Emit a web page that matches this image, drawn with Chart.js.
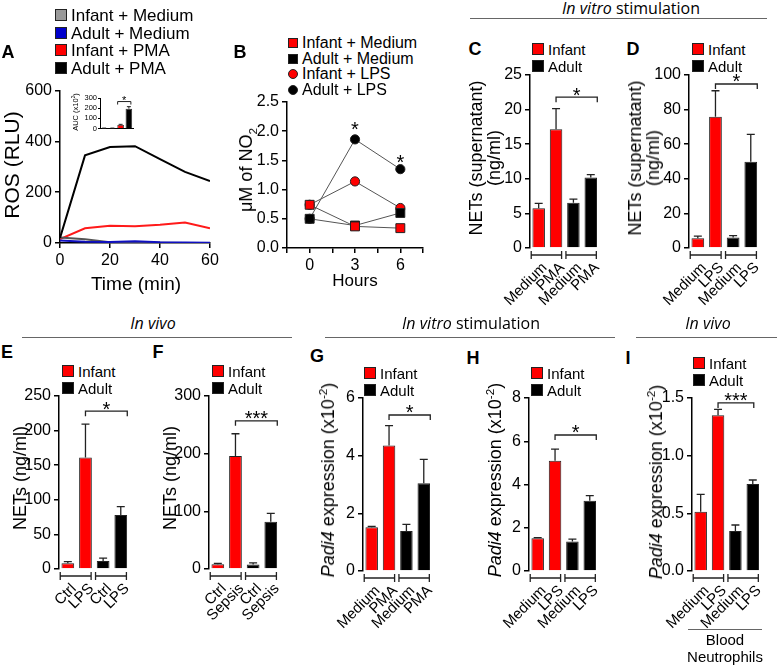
<!DOCTYPE html>
<html><head><meta charset="utf-8">
<script src="https://cdn.jsdelivr.net/npm/chart.js@4"></script>
<style>
body{margin:0;background:#fff;width:778px;height:665px;position:relative;overflow:hidden;font-family:"Liberation Sans",Arial,sans-serif;color:#000}
canvas{position:absolute}
.t{position:absolute;white-space:nowrap;line-height:1}
.c{transform:translate(-50%,-50%)}
.v{transform:translate(-50%,-50%) rotate(-90deg);text-align:center}
.l{transform:translateY(-50%)}
.lbl{font-weight:bold;font-size:18px}
.hdr{font-family:"Open Sans",sans-serif;font-size:16px}
.hl{position:absolute;height:0;border-top:1.4px solid #666}
.sw{position:absolute;box-sizing:border-box;border:1px solid #222}
sup,sub{font-size:65%;line-height:0}
</style></head><body>
<script>
// ---------- DATA ----------
const timeMin = [0, 10, 20, 30, 40, 50, 60];
const rosInfantMedium = [22, 15, 3, 3, 1, 0, 0];
const rosAdultMedium = [10, 5, 4, 7, 3, 2, 1];
const rosInfantPMA = [15, 58, 68, 66, 72, 81, 58];
const rosAdultPMA = [20, 345, 378, 381, 330, 280, 244];
const aucGroups = ['Infant + Medium', 'Adult + Medium', 'Infant + PMA', 'Adult + PMA'];
const aucValues = [3, 3, 35, 195];
const aucErrors = [1, 1, 6, 20];

const hours = [0, 3, 6];
const no2InfantMedium = [0.74, 0.37, 0.34];
const no2AdultMedium = [0.50, 0.385, 0.60];
const no2InfantLPS = [0.74, 1.14, 0.685];
const no2AdultLPS = [0.50, 1.86, 1.35];

const cLabels = ['Medium', 'PMA', 'Medium', 'PMA'];
const cValues = [5.75, 17.15, 6.55, 10.2];
const cErrors = [0.7, 3.0, 0.5, 0.4];
const dLabels = ['Medium', 'LPS', 'Medium', 'LPS'];
const dValues = [5.6, 75.9, 6.0, 49.9];
const dErrors = [1.3, 15, 1.1, 15.8];
const eLabels = ['Ctrl', 'LPS', 'Ctrl', 'LPS'];
const eValues = [8.2, 161, 11.6, 78];
const eErrors = [2.4, 48.5, 4, 12];
const fLabels = ['Ctrl', 'Sepsis', 'Ctrl', 'Sepsis'];
const fValues = [8.1, 196, 8, 82];
const fErrors = [1.5, 38.5, 2.5, 14.5];
const gLabels = ['Medium', 'PMA', 'Medium', 'PMA'];
const gValues = [1.515, 4.35, 1.39, 3.04];
const gErrors = [0.03, 0.69, 0.23, 0.83];
const hLabels = ['Medium', 'LPS', 'Medium', 'LPS'];
const hValues = [1.51, 5.1, 1.36, 3.25];
const hErrors = [0.03, 0.54, 0.11, 0.24];
const iLabels = ['Medium', 'LPS', 'Medium', 'LPS'];
const iValues = [0.514, 1.35, 0.347, 0.754];
const iErrors = [0.15, 0.052, 0.052, 0.035];

// ---------- HELPERS ----------
Chart.defaults.font.family = '"Liberation Sans", Arial, sans-serif';
Chart.defaults.color = '#000';

function txt(html, x, y, cls, style) {
  const d = document.createElement('div');
  d.className = 't ' + (cls || '');
  d.innerHTML = html;
  d.style.left = x + 'px'; d.style.top = y + 'px';
  if (style) Object.assign(d.style, style);
  document.body.appendChild(d);
  return d;
}
function hline(x0, x1, y) {
  const d = document.createElement('div');
  d.className = 'hl';
  d.style.left = x0 + 'px'; d.style.top = y + 'px'; d.style.width = (x1 - x0) + 'px';
  document.body.appendChild(d);
}
function swatch(x, y, w, color, round) {
  const d = document.createElement('div');
  d.className = 'sw';
  Object.assign(d.style, {left: (x - w / 2) + 'px', top: (y - w / 2) + 'px', width: w + 'px', height: w + 'px', background: color});
  if (round) d.style.borderRadius = '50%';
  document.body.appendChild(d);
}
function mkCanvas(l, t, r, b, ext) {
  const c = document.createElement('canvas');
  const x = l - ext[0], y = t - ext[1];
  const w = (r - l) + ext[0] + ext[2], h = (b - t) + ext[1] + ext[3];
  c.width = w; c.height = h;
  Object.assign(c.style, {left: x + 'px', top: y + 'px', width: w + 'px', height: h + 'px'});
  document.body.appendChild(c);
  return c;
}
function baseOpts(ext) {
  return {
    responsive: false, animation: false, devicePixelRatio: 1,
    layout: {padding: {left: 0, top: ext[1], right: ext[2], bottom: 0}},
    plugins: {legend: {display: false}, tooltip: {enabled: false}}
  };
}
function yAxis(ext, min, max, step, size, fmt) {
  return {
    min: min, max: max,
    afterFit: s => { s.width = ext[0]; },
    ticks: {stepSize: step, font: {size: size}, color: '#000', padding: 3, autoSkip: false,
      callback: fmt || (v => v)},
    grid: {drawOnChartArea: false, tickLength: 5, color: '#000', lineWidth: 1.5},
    border: {color: '#000', width: 1.5}
  };
}

const deco = {
  id: 'deco',
  afterDatasetsDraw(chart) {
    const o = chart.options.plugins.deco;
    if (!o) return;
    const ctx = chart.ctx, xs = chart.scales.x, ys = chart.scales.y;
    const meta = chart.getDatasetMeta(0);
    ctx.save();
    ctx.strokeStyle = '#222'; ctx.lineWidth = o.lw || 1.3; ctx.lineCap = 'butt';
    if (o.err) {
      o.err.forEach((e, i) => {
        const el = meta.data[i];
        const v = chart.data.datasets[0].data[i];
        const y0 = ys.getPixelForValue(v), y1 = ys.getPixelForValue(v + e);
        ctx.beginPath();
        ctx.moveTo(el.x, y0); ctx.lineTo(el.x, y1);
        ctx.moveTo(el.x - o.cap, y1); ctx.lineTo(el.x + o.cap, y1);
        ctx.stroke();
      });
    }
    if (o.groups) {
      const cw = xs.getPixelForTick(1) - xs.getPixelForTick(0);
      const yb = ys.getPixelForValue(0) + 7;
      [[0, 1], [2, 3]].forEach(([a, b]) => {
        const x0 = xs.getPixelForTick(a) - 0.43 * cw, x1 = xs.getPixelForTick(b) + 0.32 * cw;
        ctx.beginPath();
        ctx.moveTo(x0, yb); ctx.lineTo(x1, yb);
        ctx.moveTo(x0, yb - 4); ctx.lineTo(x0, yb + 4);
        ctx.moveTo(x1, yb - 4); ctx.lineTo(x1, yb + 4);
        ctx.stroke();
      });
    }
    if (o.sig) {
      const s = o.sig;
      const x0 = meta.data[s.from].x + (s.dx0 || 0);
      const x1 = meta.data[s.to].x + (s.dx1 || 0);
      const y = ys.getPixelForValue(s.level);
      ctx.beginPath();
      ctx.moveTo(x0, y + s.tick); ctx.lineTo(x0, y); ctx.lineTo(x1, y); ctx.lineTo(x1, y + s.tick);
      ctx.stroke();
      ctx.fillStyle = '#000'; ctx.textAlign = 'center'; ctx.textBaseline = 'alphabetic';
      ctx.font = s.fs + 'px "Liberation Sans", Arial';
      ctx.fillText(s.text, (x0 + x1) / 2, y - s.gap + 0.57 * s.fs);
    }
    if (o.stars) {
      ctx.fillStyle = '#000'; ctx.textAlign = 'center'; ctx.textBaseline = 'alphabetic';
      ctx.font = o.starFs + 'px "Liberation Sans", Arial';
      o.stars.forEach(p => {
        ctx.fillText('*', xs.getPixelForValue(p.x), ys.getPixelForValue(p.y) + 0.57 * o.starFs);
      });
    }
    ctx.restore();
  }
};

function barPanel(l, t, r, b, labels, values, errors, max, step, fmt, sig) {
  const ext = [50, 14, 12, 72];
  const c = mkCanvas(l, t, r, b, ext);
  const opts = baseOpts(ext);
  opts.plugins.deco = {err: errors, cap: 4, groups: true, sig: sig};
  opts.scales = {
    x: {
      afterFit: s => { s.height = ext[3]; },
      grid: {display: false, drawTicks: false}, border: {display: false},
      ticks: {autoSkip: false, maxRotation: 45, minRotation: 45, font: {size: 15}, color: '#000',
        padding: 11, labelOffset: 6}
    },
    y: yAxis(ext, 0, max, step, 16, fmt)
  };
  new Chart(c, {
    type: 'bar',
    data: {labels: labels, datasets: [{data: values,
      backgroundColor: ['#ff0000', '#ff0000', '#000000', '#000000'],
      borderColor: '#222', borderWidth: 1, barPercentage: 0.72, categoryPercentage: 1}]},
    options: opts, plugins: [deco]
  });
}

// ---------- PANEL A ----------
(function () {
  const ext = [45, 12, 20, 50];
  const c = mkCanvas(60, 90, 210, 243, ext);
  const opts = baseOpts(ext);
  opts.scales = {
    x: {type: 'linear', min: 0, max: 60,
      afterFit: s => { s.height = ext[3]; },
      ticks: {stepSize: 20, font: {size: 16}, color: '#000', padding: 3},
      grid: {drawOnChartArea: false, tickLength: 5, color: '#000', lineWidth: 1.5},
      border: {color: '#000', width: 1.5}},
    y: yAxis(ext, 0, 600, 200, 16)
  };
  const mk = (arr, col, label) => ({label: label, data: timeMin.map((t, i) => ({x: t, y: arr[i]})),
    borderColor: col, borderWidth: 2, pointRadius: 0, tension: 0, fill: false});
  new Chart(c, {type: 'line', data: {datasets: [
    mk(rosAdultPMA, '#000000', 'Adult + PMA'),
    mk(rosAdultMedium, '#1010c0', 'Adult + Medium'),
    mk(rosInfantMedium, '#555555', 'Infant + Medium'),
    mk(rosInfantPMA, '#ff1a1a', 'Infant + PMA')
  ]}, options: opts});
})();

// inset
(function () {
  const ext = [18, 10, 6, 4];
  const c = mkCanvas(100, 98, 133, 130, ext);
  const opts = baseOpts(ext);
  opts.plugins.deco = {err: aucErrors, cap: 2, lw: 1, sig: {from: 2, to: 3, dx0: -3, dx1: 2, level: 265, tick: 3, text: '*', fs: 11, gap: 4}};
  opts.scales = {
    x: {afterFit: s => { s.height = ext[3]; }, ticks: {display: false},
      grid: {display: false, drawTicks: false}, border: {color: '#000', width: 1}},
    y: {min: 0, max: 300, afterFit: s => { s.width = ext[0]; },
      ticks: {stepSize: 100, font: {size: 7.5}, color: '#000', padding: 1, autoSkip: false},
      grid: {drawOnChartArea: false, tickLength: 2, color: '#000', lineWidth: 1},
      border: {color: '#000', width: 1}}
  };
  new Chart(c, {type: 'bar', data: {labels: aucGroups, datasets: [{data: aucValues,
    backgroundColor: ['#999999', '#0000cc', '#ff0000', '#000000'], borderColor: '#222', borderWidth: 0.8,
    barPercentage: 0.8, categoryPercentage: 1}]}, options: opts, plugins: [deco]});
})();

// ---------- PANEL B ----------
(function () {
  const ext = [40, 14, 10, 30];
  const c = mkCanvas(287, 102, 423, 248, ext);
  const opts = baseOpts(ext);
  opts.plugins.deco = {stars: [{x: 3, y: 2.11}, {x: 6, y: 1.54}], starFs: 20};
  opts.scales = {
    x: {type: 'linear', min: -1.5, max: 7.5,
      afterFit: s => { s.height = ext[3]; },
      ticks: {stepSize: 1.5, font: {size: 16}, color: '#000', padding: 3,
        callback: v => (hours.includes(v) ? v : '')},
      grid: {drawOnChartArea: false, tickLength: 5, color: '#000', lineWidth: 1.5},
      border: {color: '#000', width: 1.5}},
    y: yAxis(ext, 0, 2.5, 0.5, 16, v => v.toFixed(1))
  };
  const mk = (arr, col, style, r, label) => ({label: label, data: hours.map((h, i) => ({x: h, y: arr[i]})),
    showLine: true, borderColor: '#555', borderWidth: 1, backgroundColor: col,
    pointBackgroundColor: col, pointBorderColor: '#222', pointBorderWidth: 1,
    pointStyle: style, pointRadius: r, clip: false});
  new Chart(c, {type: 'line', data: {datasets: [
    mk(no2InfantMedium, '#ff0000', 'rect', 6.3, 'Infant + Medium'),
    mk(no2AdultMedium, '#000000', 'rect', 6.3, 'Adult + Medium'),
    mk(no2InfantLPS, '#ff0000', 'circle', 4.6, 'Infant + LPS'),
    mk(no2AdultLPS, '#000000', 'circle', 4.6, 'Adult + LPS')
  ]}, options: opts, plugins: [deco]});
})();

// ---------- BAR PANELS ----------
barPanel(530, 75, 604, 248, cLabels, cValues, cErrors, 25, 5, null,
  {from: 1, to: 3, dx1: 6.5, level: 21.8, tick: 5, text: '*', fs: 20, gap: 7});
barPanel(689, 75, 764, 248, dLabels, dValues, dErrors, 100, 20, null,
  {from: 1, to: 3, dx1: 6.5, level: 94.8, tick: 5, text: '*', fs: 20, gap: 7});
barPanel(59, 396, 134, 569, eLabels, eValues, eErrors, 250, 50, null,
  {from: 1, to: 3, dx1: 6.5, level: 228, tick: 5, text: '*', fs: 20, gap: 7});
barPanel(209, 396, 284, 569, fLabels, fValues, fErrors, 300, 100, null,
  {from: 1, to: 3, dx1: 6.5, level: 257, tick: 5, text: '***', fs: 20, gap: 7});
barPanel(363, 398, 437, 571, gLabels, gValues, gErrors, 6, 2, null,
  {from: 1, to: 3, dx1: 6.5, level: 5.41, tick: 5, text: '*', fs: 20, gap: 7});
barPanel(529, 398, 603, 571, hLabels, hValues, hErrors, 8, 2, null,
  {from: 1, to: 3, dx1: 6.5, level: 6.29, tick: 5, text: '*', fs: 20, gap: 7});
barPanel(692, 398, 766, 571, iLabels, iValues, iErrors, 1.5, 0.5, v => v.toFixed(1),
  {from: 1, to: 3, dx1: 1, level: 1.457, tick: 5, text: '***', fs: 20, gap: 7});

// ---------- TEXT / LEGENDS ----------
[['A', 8, 52], ['B', 240, 52], ['C', 475, 49], ['D', 633, 49], ['E', 7, 352], ['F', 158, 352],
 ['G', 317, 356], ['H', 473, 358], ['I', 628, 358]].forEach(p => txt(p[0], p[1], p[2], 'c lbl'));

txt('<i>In vitro</i> stimulation', 631, 8, 'c hdr');
hline(470, 767, 18);
txt('<i>In vivo</i>', 153, 323, 'c hdr');
hline(22, 292, 337);
txt('<i>In vitro</i> stimulation', 471, 323, 'c hdr');
hline(325, 615, 337);
txt('<i>In vivo</i>', 708, 323, 'c hdr');
hline(636, 777, 337);

const legA = [['Infant + Medium', '#9a9a9a'], ['Adult + Medium', '#0000cc'], ['Infant + PMA', '#ff0000'], ['Adult + PMA', '#000000']];
legA.forEach((it, i) => { const y = 15 + i * 17.7; swatch(61, y, 12, it[1]); txt(it[0], 71, y, 'l', {fontSize: '17px'}); });
txt('ROS (RLU)', 11, 165, 'v', {fontSize: '21px'});
txt('Time (min)', 136, 283, 'c', {fontSize: '19px'});
txt('AUC (x10<sup>2</sup>)', 76, 112, 'v', {fontSize: '7.5px'});

const legB = [['Infant + Medium', '#ff0000', 0], ['Adult + Medium', '#000000', 0], ['Infant + LPS', '#ff0000', 1], ['Adult + LPS', '#000000', 1]];
legB.forEach((it, i) => { const y = 43 + i * 15.5; swatch(293, y, 10, it[1], it[2]); txt(it[0], 302, y, 'l', {fontSize: '16px'}); });
txt('μM of NO<sub>2</sub>', 246, 170, 'v', {fontSize: '18px'});
txt('Hours', 355, 280, 'c', {fontSize: '17px'});

function legIA(x, y) {
  swatch(x, y, 12, '#ff0000'); txt('Infant', x + 10, y, 'l', {fontSize: '15px'});
  swatch(x, y + 17, 12, '#000000'); txt('Adult', x + 10, y + 17, 'l', {fontSize: '15px'});
}
legIA(538, 49); legIA(698, 49); legIA(68, 371); legIA(218, 371);
legIA(370, 373); legIA(537, 373); legIA(699, 363);

txt('NETs (supernatant)<br>(ng/ml)', 485, 158, 'v', {fontSize: '18px', lineHeight: '18px'});
txt('NETs (supernatant)<br>(ng/ml)', 644, 158, 'v', {fontSize: '18px', lineHeight: '18px'});
txt('NETs (ng/ml)', 20, 478, 'v', {fontSize: '18px'});
txt('NETs (ng/ml)', 170, 478, 'v', {fontSize: '18px'});
txt('<i>Padi4</i> expression (x10<sup>-2</sup>)', 328, 480, 'v', {fontSize: '18px'});
txt('<i>Padi4</i> expression (x10<sup>-2</sup>)', 495, 480, 'v', {fontSize: '18px'});
txt('<i>Padi4</i> expression (x10<sup>-2</sup>)', 656, 482, 'v', {fontSize: '18px'});

hline(688, 762, 629);
txt('Blood', 725, 639, 'c', {fontSize: '15px'});
txt('Neutrophils', 725, 656, 'c', {fontSize: '15px'});
</script>
</body></html>
